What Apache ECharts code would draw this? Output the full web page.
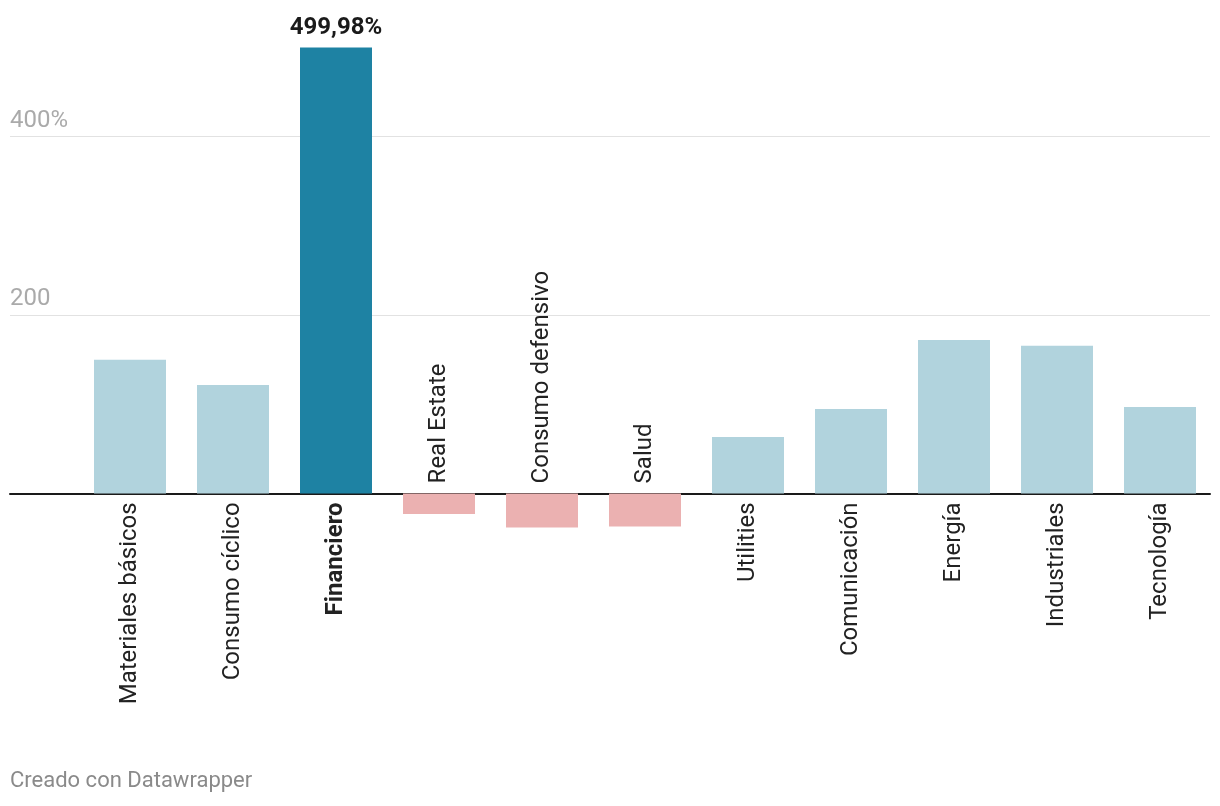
<!DOCTYPE html>
<html>
<head>
<meta charset="utf-8">
<script src="https://cdn.jsdelivr.net/npm/echarts@6/dist/echarts.min.js"></script>
<style>
html,body{margin:0;padding:0;background:#fff;}
#chart{width:1220px;height:806px;}
</style>
</head>
<body>
<div id="chart"></div>
<script>
const categories = ['Materiales básicos','Consumo cíclico','Financiero','Real Estate','Consumo defensivo','Salud','Utilities','Comunicación','Energía','Industriales','Tecnología'];
const values = [149.7, 121.6, 499.98, -23, -38.3, -37.2, 63.3, 94.7, 172, 165.4, 97];
const highlight = 'Financiero';
const yTicks = [-200, 0, 200, 400, 600];

const FONT = 'Roboto';
const H = 806, GT = -41.8, GB = 134.2;
const yMin = yTicks[0], yMax = yTicks[yTicks.length - 1];
const pxPerUnit = (H - GT - GB) / (yMax - yMin);
const offBottom = -(0 - yMin) * pxPerUnit;
const offTop = -(yMax - 0) * pxPerUnit;

const chart = echarts.init(document.getElementById('chart'));
const catData = categories.map(c => c === highlight ? {value: c, textStyle: {fontWeight: 'bold'}} : c);

const option = {
  animation: false,
  grid: [
    {left: 10, right: 10, top: GT, bottom: GB, containLabel: false, outerBoundsMode: 'none'},
    {left: 78.5, right: 8.5, top: GT, bottom: GB, containLabel: false, outerBoundsMode: 'none'}
  ],
  xAxis: [
    {gridIndex: 0, type: 'value', min: 0, max: 1,
     axisLine: {show: true, onZero: true, lineStyle: {color: '#1a1a1a', width: 2}},
     axisTick: {show: false}, axisLabel: {show: false}, splitLine: {show: false}},
    {gridIndex: 1, type: 'category', data: catData, position: 'bottom', offset: offBottom,
     axisLine: {show: false, onZero: false},
     axisTick: {show: false},
     axisLabel: {interval: 0, rotate: 90, margin: 9, fontFamily: FONT, fontSize: 24, color: '#222',
       formatter: (v, i) => values[i] < 0 ? '' : v}},
    {gridIndex: 1, type: 'category', data: catData, position: 'top', offset: offTop,
     axisLine: {show: false, onZero: false},
     axisTick: {show: false},
     axisLabel: {interval: 0, rotate: -90, margin: 10, fontFamily: FONT, fontSize: 24, color: '#222',
       formatter: (v, i) => values[i] < 0 ? v : ''}}
  ],
  yAxis: [
    {gridIndex: 0, type: 'value', min: yMin, max: yMax, interval: 200,
     axisLine: {show: false}, axisTick: {show: false},
     splitLine: {show: true, lineStyle: {width: 1, color: ['rgba(0,0,0,0)','rgba(0,0,0,0)','#e2e2e2','#e2e2e2','rgba(0,0,0,0)']}},
     axisLabel: {inside: true, verticalAlign: 'bottom', margin: 0, padding: [0,0,4,0],
       fontFamily: FONT, fontSize: 24, color: '#aaaaaa',
       formatter: v => v === 400 ? '400%' : (v === 200 ? '200' : '')}},
    {gridIndex: 1, type: 'value', min: yMin, max: yMax, interval: 200, show: false,
     splitLine: {show: false}}
  ],
  series: [{
    type: 'bar',
    xAxisIndex: 1, yAxisIndex: 1,
    barWidth: 72,
    data: values.map((v, i) => ({
      value: v,
      itemStyle: {color: categories[i] === highlight ? '#1e82a3' : (v < 0 ? '#ebb1b1' : '#b1d3dd')},
      label: categories[i] === highlight ? {
        show: true, position: 'top', distance: 7, fontFamily: FONT, fontSize: 24, fontWeight: 'bold', color: '#1a1a1a',
        formatter: p => p.value.toFixed(2).replace('.', ',') + '%'
      } : {show: false}
    }))
  }],
  graphic: [{
    type: 'text', left: 10, top: 770,
    style: {text: 'Creado con Datawrapper', fontFamily: FONT, fontSize: 22, fill: '#8a8a8a'}
  }]
};
chart.setOption(option);
</script>
</body>
</html>
